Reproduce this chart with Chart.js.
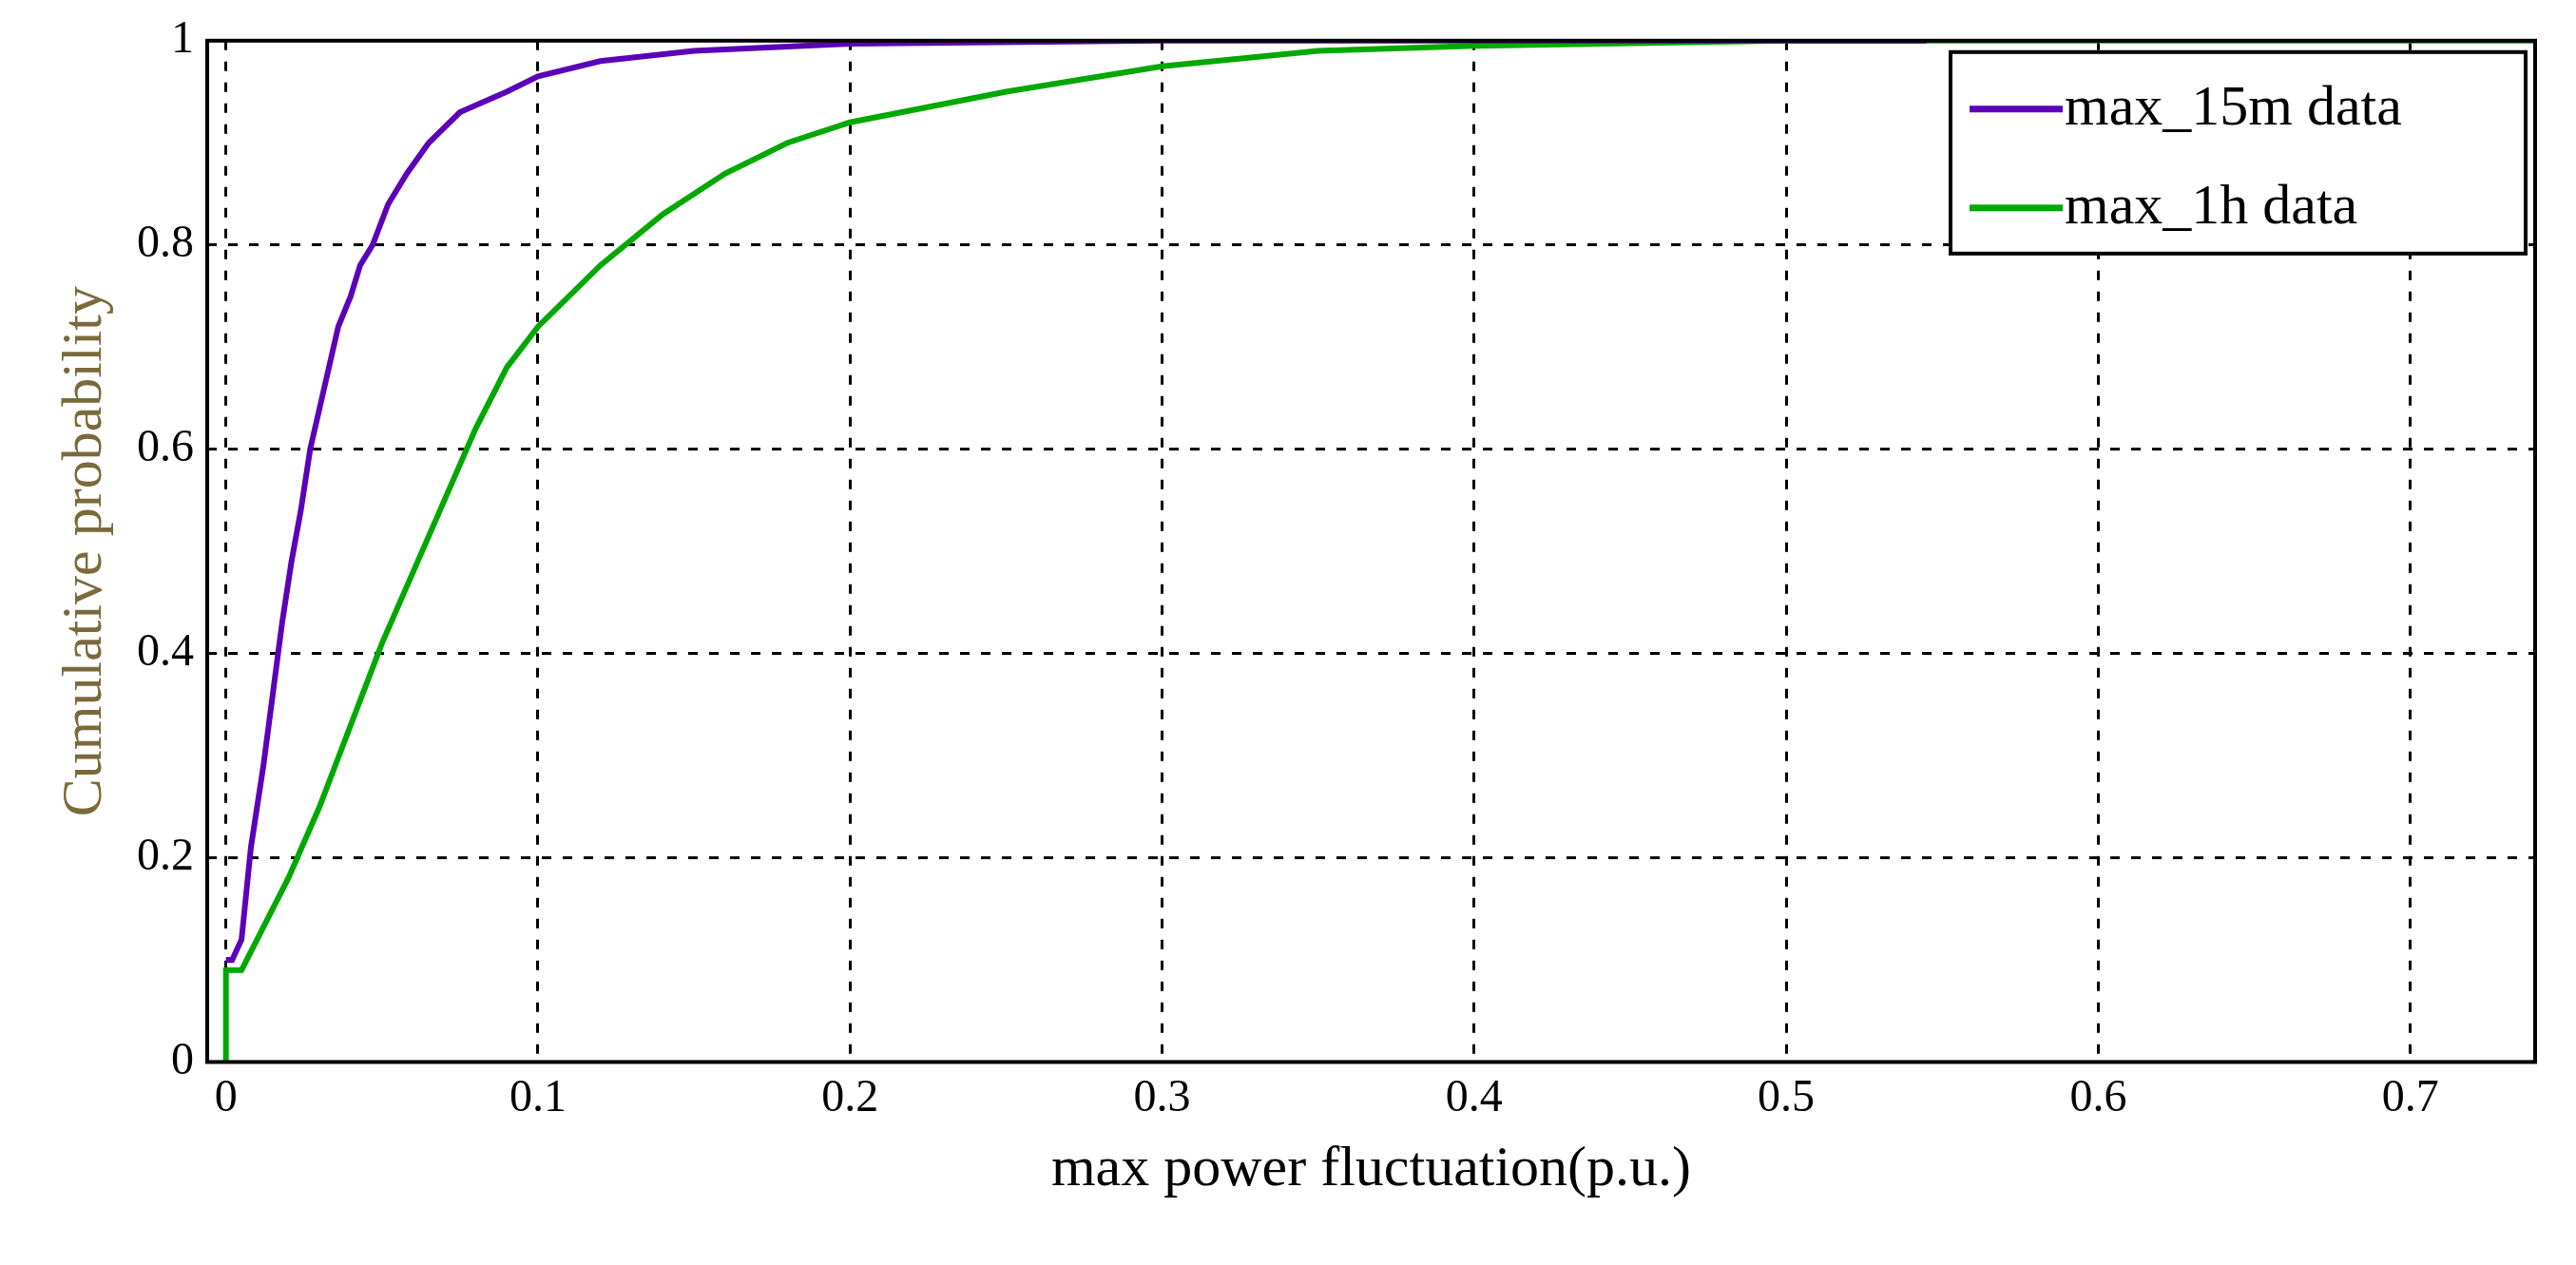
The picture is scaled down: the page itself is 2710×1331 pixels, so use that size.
<!DOCTYPE html>
<html>
<head>
<meta charset="utf-8">
<script src="https://cdn.jsdelivr.net/npm/chart.js@4/dist/chart.umd.min.js"></script>
<style>
  html, body { margin: 0; padding: 0; background: #fff; }
  #wrap { width: 2710px; height: 1331px; }
</style>
</head>
<body>
<div id="wrap"><canvas id="grafico"></canvas></div>
<script>
const x15m = [0, 0.002, 0.005, 0.008, 0.012, 0.015, 0.018, 0.021, 0.024, 0.027, 0.030, 0.033, 0.036, 0.040, 0.043, 0.047, 0.052, 0.058, 0.065, 0.075, 0.090, 0.100, 0.120, 0.150, 0.200, 0.300, 0.545];
const y15m = [0.1, 0.1, 0.12, 0.21, 0.29, 0.36, 0.43, 0.49, 0.54, 0.60, 0.64, 0.68, 0.72, 0.75, 0.78, 0.80, 0.84, 0.87, 0.90, 0.93, 0.95, 0.965, 0.98, 0.99, 0.997, 1, 1];
const x1h = [0, 0, 0.005, 0.010, 0.020, 0.030, 0.040, 0.050, 0.060, 0.070, 0.080, 0.090, 0.100, 0.120, 0.140, 0.160, 0.180, 0.200, 0.250, 0.300, 0.350, 0.400, 0.500, 0.740];
const y1h = [0, 0.09, 0.09, 0.12, 0.18, 0.25, 0.33, 0.41, 0.48, 0.55, 0.62, 0.68, 0.72, 0.78, 0.83, 0.87, 0.90, 0.92, 0.95, 0.975, 0.99, 0.995, 1, 1];
const xTicks = [0, 0.1, 0.2, 0.3, 0.4, 0.5, 0.6, 0.7];
const yTicks = [0, 0.2, 0.4, 0.6, 0.8, 1];

const fonte = 'Liberation Serif';

// frame around the axes and boxed legend inside the plot, MATLAB style
const molduraPlugin = {
  id: 'moldura',
  afterDatasetsDraw(chart) {
    const { ctx, chartArea: a } = chart;
    ctx.save();
    ctx.strokeStyle = '#000';
    ctx.lineWidth = 4;
    ctx.strokeRect(a.left, a.top, a.right - a.left, a.bottom - a.top);

    const bx = a.right - 615, by = a.top + 12, bw = 605, bh = 212;
    ctx.fillStyle = '#fff';
    ctx.fillRect(bx, by, bw, bh);
    ctx.strokeRect(bx, by, bw, bh);
    ctx.font = '60px "' + fonte + '"';
    ctx.textBaseline = 'middle';
    chart.data.datasets.forEach((ds, i) => {
      const yy = by + 60 + i * 104;
      ctx.strokeStyle = ds.borderColor;
      ctx.lineWidth = 7;
      ctx.beginPath();
      ctx.moveTo(bx + 20, yy);
      ctx.lineTo(bx + 118, yy);
      ctx.stroke();
      ctx.fillStyle = '#000';
      ctx.fillText(ds.label, bx + 120, yy);
    });
    ctx.restore();
  }
};

new Chart(document.getElementById('grafico').getContext('2d'), {
  type: 'line',
  data: {
    datasets: [
      {
        label: 'max_15m data',
        data: x15m.map((v, i) => ({ x: v, y: y15m[i] })),
        borderColor: '#5b00b8',
        borderWidth: 6,
        pointRadius: 0
      },
      {
        label: 'max_1h data',
        data: x1h.map((v, i) => ({ x: v, y: y1h[i] })),
        borderColor: '#00a800',
        borderWidth: 6,
        pointRadius: 0
      }
    ]
  },
  options: {
    responsive: true,
    maintainAspectRatio: false,
    animation: false,
    layout: { padding: { left: 50, top: 30, right: 43, bottom: 60 } },
    plugins: { legend: { display: false }, tooltip: { enabled: false } },
    scales: {
      x: {
        type: 'linear',
        min: -0.006,
        max: 0.74,
        afterBuildTicks: axis => { axis.ticks = xTicks.map(v => ({ value: v })); },
        ticks: { color: '#000', font: { family: fonte, size: 48 }, callback: v => String(v), padding: 10 },
        grid: { color: '#000', lineWidth: 3, drawTicks: false },
        border: { display: false, dash: [10, 12] },
        title: { display: true, text: 'max power fluctuation(p.u.)', color: '#000', font: { family: fonte, size: 60 }, padding: { top: 0 } }
      },
      y: {
        type: 'linear',
        min: 0,
        max: 1,
        afterBuildTicks: axis => { axis.ticks = yTicks.map(v => ({ value: v })); },
        ticks: { color: '#000', font: { family: fonte, size: 48 }, callback: v => String(v), padding: 14 },
        grid: { color: '#000', lineWidth: 3, drawTicks: false },
        border: { display: false, dash: [10, 12] },
        title: { display: true, text: 'Cumulative probability', color: '#7a6a3a', font: { family: fonte, size: 60 } }
      }
    }
  },
  plugins: [molduraPlugin]
});
</script>
</body>
</html>
